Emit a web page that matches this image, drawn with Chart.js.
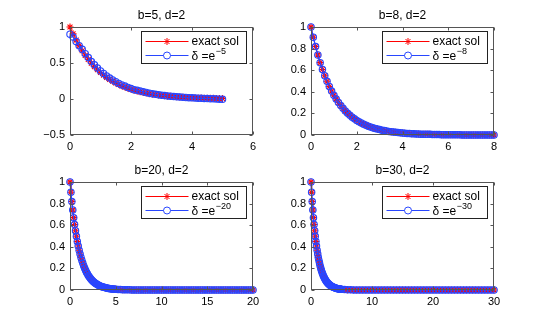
<!DOCTYPE html>
<html>
<head>
<meta charset="utf-8">
<script src="https://cdn.jsdelivr.net/npm/chart.js@4.4.0/dist/chart.umd.min.js"></script>
<style>
body { margin: 0; background: #fff; }
#wrap { position: relative; width: 545px; height: 327px; overflow: hidden; }
canvas { position: absolute; }
</style>
</head>
<body>
<div id="wrap">
  <canvas id="c5" width="272" height="163" style="left:0px;top:0px"></canvas>
  <canvas id="c8" width="272" height="163" style="left:241px;top:0px"></canvas>
  <canvas id="c20" width="272" height="163" style="left:0px;top:155px"></canvas>
  <canvas id="c30" width="272" height="163" style="left:241px;top:155px"></canvas>
</div>
<script>
// x grid, step 0.1 from 0 to 5
const xFine = [0,0.1,0.2,0.3,0.4,0.5,0.6,0.7,0.8,0.9,1,1.1,1.2,1.3,1.4,1.5,1.6,1.7,1.8,1.9,2,
  2.1,2.2,2.3,2.4,2.5,2.6,2.7,2.8,2.9,3,3.1,3.2,3.3,3.4,3.5,3.6,3.7,3.8,3.9,4,
  4.1,4.2,4.3,4.4,4.5,4.6,4.7,4.8,4.9,5];
// exact solution (same shape in all four panels)
const exactFine = [1,0.905,0.819,0.741,0.67,0.607,0.549,0.497,0.449,0.407,0.368,
  0.333,0.301,0.273,0.247,0.223,0.202,0.183,0.165,0.15,0.135,
  0.122,0.111,0.1,0.091,0.082,0.074,0.067,0.061,0.055,0.05,
  0.045,0.041,0.037,0.033,0.03,0.027,0.025,0.022,0.02,0.018,
  0.017,0.015,0.014,0.012,0.011,0.01,0.009,0.008,0.007,0.007];
// approximation for b=5 (starts low, runs a bit above, ends slightly below 0)
const approxB5 = [0.9,0.86,0.8,0.74,0.69,0.63,0.575,0.52,0.475,0.43,0.39,
  0.355,0.32,0.29,0.265,0.24,0.215,0.195,0.18,0.16,0.145,
  0.13,0.12,0.11,0.1,0.09,0.08,0.072,0.065,0.058,0.052,
  0.047,0.042,0.038,0.034,0.03,0.027,0.024,0.021,0.018,0.016,
  0.014,0.012,0.01,0.008,0.006,0.004,0.002,0,-0.002,-0.004];

// tails past x=5 (all close to zero)
const xTail8 = [5.1,5.2,5.3,5.4,5.5,5.6,5.7,5.8,5.9,6,6.1,6.2,6.3,6.4,6.5,6.6,6.7,6.8,6.9,7,
  7.1,7.2,7.3,7.4,7.5,7.6,7.7,7.8,7.9,8];
const exactTail8 = [0.006,0.006,0.005,0.005,0.004,0.004,0.003,0.003,0.003,0.002,
  0.002,0.002,0.002,0.002,0.002,0.001,0.001,0.001,0.001,0.001,
  0.001,0.001,0.001,0.001,0.001,0.001,0,0,0,0];
const xTail20 = [5.25,5.5,5.75,6,6.25,6.5,6.75,7,7.25,7.5,7.75,8,8.25,8.5,8.75,9,9.25,9.5,9.75,10,
  10.25,10.5,10.75,11,11.25,11.5,11.75,12,12.25,12.5,12.75,13,13.25,13.5,13.75,14,
  14.25,14.5,14.75,15,15.25,15.5,15.75,16,16.25,16.5,16.75,17,17.25,17.5,17.75,18,
  18.25,18.5,18.75,19,19.25,19.5,19.75,20];
const exactTail20 = [0.005,0.004,0.003,0.002,0.002,0.002,0.001,0.001,0,0,
  0,0,0,0,0,0,0,0,0,0, 0,0,0,0,0,0,0,0,0,0, 0,0,0,0,0,0,0,0,0,0,
  0,0,0,0,0,0,0,0,0,0, 0,0,0,0,0,0,0,0,0,0];
const xTail30 = [5.5,6,6.5,7,7.5,8,8.5,9,9.5,10,10.5,11,11.5,12,12.5,13,13.5,14,14.5,15,
  15.5,16,16.5,17,17.5,18,18.5,19,19.5,20,20.5,21,21.5,22,22.5,23,23.5,24,24.5,25,
  25.5,26,26.5,27,27.5,28,28.5,29,29.5,30];
const exactTail30 = [0.004,0.002,0.002,0.001,0.001,0,0,0,0,0,
  0,0,0,0,0,0,0,0,0,0, 0,0,0,0,0,0,0,0,0,0, 0,0,0,0,0,0,0,0,0,0, 0,0,0,0,0,0,0,0,0,0];

const titles = ['b=5, d=2', 'b=8, d=2', 'b=20, d=2', 'b=30, d=2'];
const deltaExp = ['\u22125', '\u22128', '\u221220', '\u221230'];
const xTicks5 = [0, 2, 4, 6];
const xTicks8 = [0, 2, 4, 6, 8];
const xTicks20 = [0, 5, 10, 15, 20];
const xTicks30 = [0, 10, 20, 30];
const yTicks5 = [-0.5, 0, 0.5, 1];
const yTicks01 = [0, 0.2, 0.4, 0.6, 0.8, 1];

const RED = 'rgb(255,0,0)';
const BLUE = 'rgb(40,70,255)';
const FONT = '"Liberation Sans", Arial, Helvetica, sans-serif';

function toPoints(xs, ys) {
    return xs.map((x, i) => ({ x: x, y: ys[i] }));
}

// box, inward ticks and the legend, MATLAB style
const matlabBox = {
    id: 'matlabBox',
    afterDatasetsDraw(chart, args, opts) {
        const ctx = chart.ctx;
        const a = chart.chartArea;
        const sx = chart.scales.x, sy = chart.scales.y;
        ctx.save();
        ctx.strokeStyle = '#555';
        ctx.lineWidth = 1;
        const l = Math.round(a.left) + 0.5, r = Math.round(a.right) - 0.5;
        const t = Math.round(a.top) + 0.5, b = Math.round(a.bottom) - 0.5;
        ctx.strokeRect(l, t, r - l, b - t);
        ctx.beginPath();
        sx.ticks.forEach(tk => {
            const px = Math.round(sx.getPixelForValue(tk.value)) + 0.5;
            ctx.moveTo(px, b); ctx.lineTo(px, b - 3);
            ctx.moveTo(px, t); ctx.lineTo(px, t + 3);
        });
        sy.ticks.forEach(tk => {
            const py = Math.round(sy.getPixelForValue(tk.value)) + 0.5;
            ctx.moveTo(l, py); ctx.lineTo(l + 3, py);
            ctx.moveTo(r, py); ctx.lineTo(r - 3, py);
        });
        ctx.stroke();

        // legend
        const W = 105, H = 32;
        const L = Math.round(a.right) - 112 + 0.5, T = Math.round(a.top) + 4 + 0.5;
        ctx.fillStyle = '#fff';
        ctx.fillRect(L, T, W, H);
        ctx.strokeStyle = '#222';
        ctx.strokeRect(L, T, W, H);
        const rows = [T + 10, T + 24];
        const x0 = L + 4, x1 = L + 47, xm = L + 25.5;
        // exact sol row
        ctx.strokeStyle = RED;
        ctx.beginPath(); ctx.moveTo(x0, rows[0]); ctx.lineTo(x1, rows[0]); ctx.stroke();
        ctx.beginPath();
        const s = 3.5, d = s * Math.SQRT1_2;
        ctx.moveTo(xm - s, rows[0]); ctx.lineTo(xm + s, rows[0]);
        ctx.moveTo(xm, rows[0] - s); ctx.lineTo(xm, rows[0] + s);
        ctx.moveTo(xm - d, rows[0] - d); ctx.lineTo(xm + d, rows[0] + d);
        ctx.moveTo(xm - d, rows[0] + d); ctx.lineTo(xm + d, rows[0] - d);
        ctx.stroke();
        // delta row
        ctx.strokeStyle = BLUE;
        ctx.beginPath(); ctx.moveTo(x0, rows[1]); ctx.lineTo(x1, rows[1]); ctx.stroke();
        ctx.beginPath(); ctx.arc(xm, rows[1], 3.5, 0, Math.PI * 2); ctx.fillStyle = '#fff'; ctx.fill(); ctx.stroke();

        ctx.fillStyle = '#000';
        ctx.textBaseline = 'middle';
        ctx.textAlign = 'left';
        ctx.font = '12px ' + FONT;
        ctx.fillText('exact sol', L + 50, rows[0]);
        ctx.fillText('\u03b4 =e', L + 50, rows[1] + 1);
        const w = ctx.measureText('\u03b4 =e').width;
        ctx.font = '9px ' + FONT;
        ctx.fillText(opts.exp, L + 50 + w + 0.5, rows[1] - 4);
        ctx.restore();
    }
};

function buatGrafik(id, title, exp, xs, exact, approx, xTicks, yTicks) {
    const ctx = document.getElementById(id).getContext('2d');
    new Chart(ctx, {
        type: 'line',
        data: {
            datasets: [{
                label: 'approx',
                data: toPoints(xs, approx),
                borderColor: BLUE,
                borderWidth: 1.2,
                pointStyle: 'circle',
                pointRadius: 3.2,
                pointBorderColor: BLUE,
                pointBackgroundColor: 'rgba(0,0,0,0)',
                pointBorderWidth: 1.1,
                tension: 0,
                clip: false
            }, {
                label: 'exact sol',
                data: toPoints(xs, exact),
                borderColor: RED,
                borderWidth: 1,
                pointStyle: 'star',
                pointRadius: 3.5,
                pointBorderColor: RED,
                pointBorderWidth: 1.1,
                tension: 0,
                clip: false
            }]
        },
        options: {
            responsive: false,
            animation: false,
            devicePixelRatio: 1,
            layout: { padding: { right: 19, left: 0, top: 0, bottom: 0 } },
            plugins: {
                legend: { display: false },
                tooltip: { enabled: false },
                title: {
                    display: true,
                    fullSize: false,
                    text: title,
                    color: '#000',
                    font: { family: FONT, size: 12, weight: 'normal', lineHeight: 1.2 },
                    padding: { top: 8, bottom: 4.6 }
                },
                matlabBox: { exp: exp }
            },
            scales: {
                x: {
                    type: 'linear',
                    min: xTicks[0],
                    max: xTicks[xTicks.length - 1],
                    afterBuildTicks: s => { s.ticks = xTicks.map(v => ({ value: v })); },
                    afterFit: s => { s.height = 28; },
                    grid: { display: false, drawTicks: false },
                    border: { display: false },
                    ticks: { color: '#000', font: { family: FONT, size: 11 }, padding: 5, maxRotation: 0, autoSkip: false }
                },
                y: {
                    type: 'linear',
                    min: yTicks[0],
                    max: yTicks[yTicks.length - 1],
                    afterBuildTicks: s => { s.ticks = yTicks.map(v => ({ value: v })); },
                    afterFit: s => { s.width = 70; },
                    grid: { display: false, drawTicks: false },
                    border: { display: false },
                    ticks: {
                        color: '#000', font: { family: FONT, size: 11 }, padding: 5, autoSkip: false,
                        callback: v => String(v).replace('-', '\u2212')
                    }
                }
            }
        },
        plugins: [matlabBox]
    });
}

const x8 = xFine.concat(xTail8), e8 = exactFine.concat(exactTail8);
const x20 = xFine.concat(xTail20), e20 = exactFine.concat(exactTail20);
const x30 = xFine.concat(xTail30), e30 = exactFine.concat(exactTail30);

// for b=8,20,30 the approximation sits on top of the exact solution
buatGrafik('c5', titles[0], deltaExp[0], xFine, exactFine, approxB5, xTicks5, yTicks5);
buatGrafik('c8', titles[1], deltaExp[1], x8, e8, e8, xTicks8, yTicks01);
buatGrafik('c20', titles[2], deltaExp[2], x20, e20, e20, xTicks20, yTicks01);
buatGrafik('c30', titles[3], deltaExp[3], x30, e30, e30, xTicks30, yTicks01);
</script>
</body>
</html>
